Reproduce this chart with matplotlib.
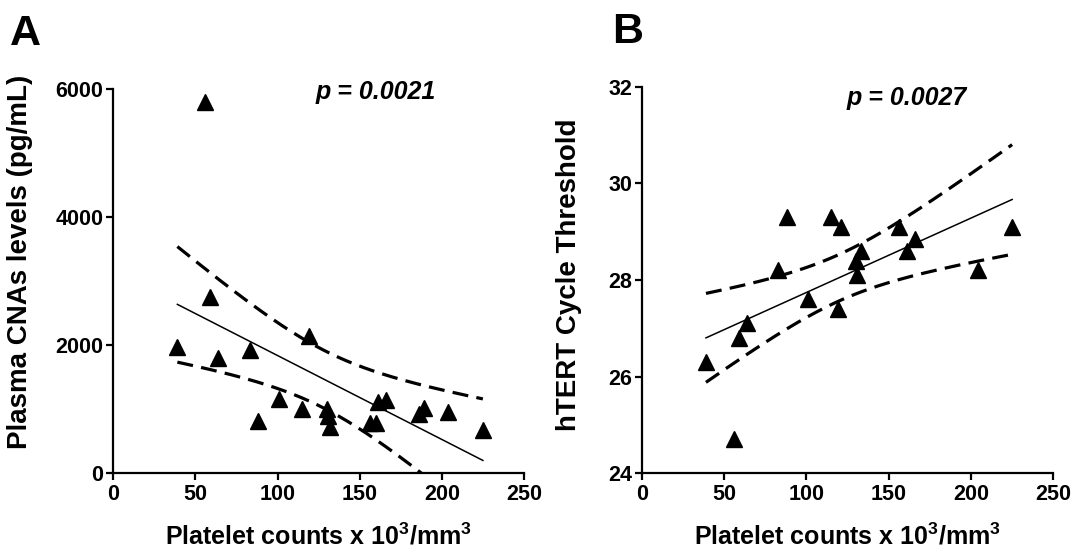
import numpy as np
import matplotlib
matplotlib.use("Agg")
from matplotlib import pyplot as plt

plt.rcParams['font.family'] = ['Liberation Sans', 'DejaVu Sans']
plt.rcParams['font.weight'] = 'bold'
plt.rcParams['mathtext.fontset'] = 'custom'
plt.rcParams['mathtext.rm'] = 'Liberation Sans:bold'
plt.rcParams['mathtext.bf'] = 'Liberation Sans:bold'
plt.rcParams['mathtext.it'] = 'Liberation Sans:bold:italic'

# panel A: platelets vs plasma CNAs
platelet_a = [56, 59, 39, 64, 83, 88, 101, 115, 119, 130, 131, 132,
              156, 160, 161, 166, 186, 189, 204, 225]
cnas_a = [5800, 2750, 1970, 1800, 1920, 820, 1160, 1000, 2150, 1000, 900, 730,
          780, 790, 1110, 1140, 930, 1020, 950, 680]

# panel B: platelets vs hTERT Ct
platelet_b = [39, 56, 59, 64, 83, 88, 101, 115, 121, 119, 131, 130, 133,
              156, 161, 166, 204, 225]
ct_b = [26.3, 24.7, 26.8, 27.1, 28.2, 29.3, 27.6, 29.3, 29.1, 27.4, 28.1, 28.4,
        28.6, 29.1, 28.6, 28.85, 28.2, 29.1]

p_a = "p = 0.0021"
p_b = "p = 0.0027"
x_ticks = [0, 50, 100, 150, 200, 250]
y_ticks_a = [0, 2000, 4000, 6000]
y_ticks_b = [24, 26, 28, 30, 32]

# two sided 95% t values
t95 = {16: 2.120, 18: 2.101}


def fit_band(x, y):
    x = np.asarray(x, float)
    y = np.asarray(y, float)
    n = len(x)
    b, a = np.polyfit(x, y, 1)
    res = y - (a + b * x)
    s = np.sqrt((res ** 2).sum() / (n - 2))
    sxx = ((x - x.mean()) ** 2).sum()
    xx = np.linspace(x.min(), x.max(), 200)
    yy = a + b * xx
    half = t95[n - 2] * s * np.sqrt(1.0 / n + (xx - x.mean()) ** 2 / sxx)
    return xx, yy, yy - half, yy + half


def draw(ax, x, y, yticks, ylabel, ptext, ptxt_xy):
    xx, yy, lo, hi = fit_band(x, y)
    ax.plot(xx, yy, color='black', lw=1.1)
    ax.plot(xx, lo, color='black', lw=2.3, dashes=(5, 2.6))
    ax.plot(xx, hi, color='black', lw=2.3, dashes=(5, 2.6))
    ax.plot(x, y, '^', color='black', ms=12, clip_on=False)
    ax.set_xlim(0, 250)
    ax.set_ylim(yticks[0], yticks[-1])
    ax.set_xticks(x_ticks)
    ax.set_yticks(yticks)
    for s in ['top', 'right']:
        ax.spines[s].set_visible(False)
    for s in ['left', 'bottom']:
        ax.spines[s].set_linewidth(1.6)
    ax.tick_params(direction='out', length=5, width=1.6, labelsize=15.5, pad=2)
    ax.tick_params(axis='x', pad=3)
    for lab in ax.get_xticklabels() + ax.get_yticklabels():
        lab.set_fontweight('bold')
    ax.set_xlabel('Platelet counts x 10$^3$/mm$^3$', fontsize=18, fontweight='bold')
    ax.set_ylabel(ylabel, fontsize=20, fontweight='bold')
    ax.text(ptxt_xy[0], ptxt_xy[1], ptext, fontsize=18, fontweight='bold',
            fontstyle='italic', ha='center', va='center')


fig = plt.figure(figsize=(10.75, 5.54), dpi=100)
ax1 = fig.add_axes([0.1054, 0.1457, 0.382, 0.6931])
ax2 = fig.add_axes([0.597, 0.1457, 0.3828, 0.6978])

draw(ax1, platelet_a, cnas_a, y_ticks_a, 'Plasma CNAs levels (pg/mL)', p_a, (160, 5960))
draw(ax2, platelet_b, ct_b, y_ticks_b, 'hTERT Cycle Threshold', p_b, (161, 31.77))

ax1.yaxis.set_label_coords(-0.196, 0.55)
ax2.yaxis.set_label_coords(-0.145, 0.513)
ax1.xaxis.set_label_coords(0.5, -0.13)
ax2.xaxis.set_label_coords(0.5, -0.13)

fig.text(10 / 1075, 1 - 45 / 554, 'A', fontsize=31, fontweight='bold', va='baseline')
fig.text(612 / 1075, 1 - 43 / 554, 'B', fontsize=31, fontweight='bold', va='baseline')

fig.savefig('out.png', dpi=100)
